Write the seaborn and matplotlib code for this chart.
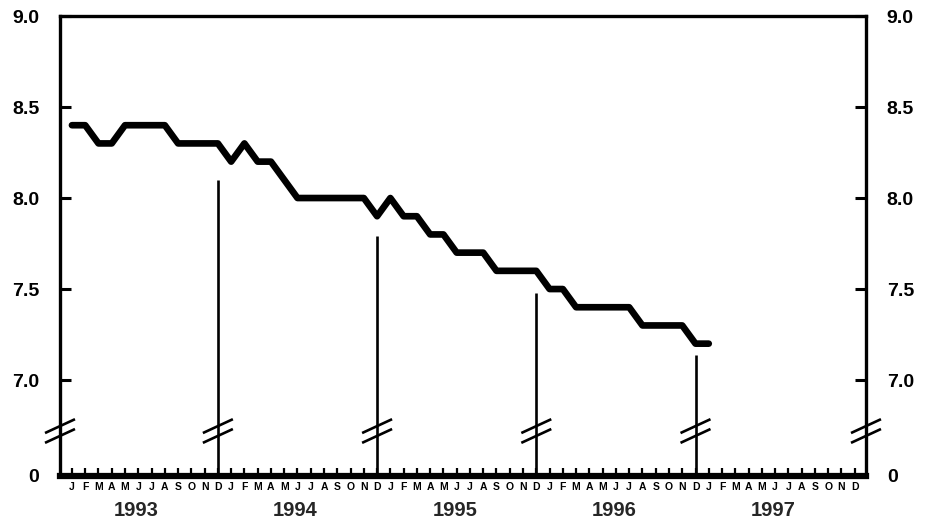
import numpy as np
import pandas as pd
import seaborn as sns
from matplotlib import pyplot as plt

# monthly values, Jan 1993 .. Jan 1997
values_1993 = [8.4, 8.4, 8.3, 8.3, 8.4, 8.4, 8.4, 8.4, 8.3, 8.3, 8.3, 8.3]
values_1994 = [8.2, 8.3, 8.2, 8.2, 8.1, 8.0, 8.0, 8.0, 8.0, 8.0, 8.0, 7.9]
values_1995 = [8.0, 7.9, 7.9, 7.8, 7.8, 7.7, 7.7, 7.7, 7.6, 7.6, 7.6, 7.6]
values_1996 = [7.5, 7.5, 7.4, 7.4, 7.4, 7.4, 7.4, 7.3, 7.3, 7.3, 7.3, 7.2]
values_1997 = [7.2]

years = ['1993', '1994', '1995', '1996', '1997']
month_letters = ['J', 'F', 'M', 'A', 'M', 'J', 'J', 'A', 'S', 'O', 'N', 'D']
y_ticks = [7.0, 7.5, 8.0, 8.5, 9.0]
y_tick_labels = ['7.0', '7.5', '8.0', '8.5', '9.0']
# year dividers (December of each year) and the height where each one stops
divider_months = [11, 23, 35, 47]
divider_tops = [8.10, 7.79, 7.48, 7.14]

values = values_1993 + values_1994 + values_1995 + values_1996 + values_1997
df = pd.DataFrame({'month': np.arange(len(values)), 'value': values})

y_bottom = 6.473   # where the broken axis shows "0"
y_break = 6.72

sns.set_style('white')
plt.rcParams['font.family'] = ['Liberation Sans', 'DejaVu Sans']
plt.rcParams['font.weight'] = 'bold'

fig = plt.figure(figsize=(9.36, 5.23), dpi=100)
ax = fig.add_axes([0.0641, 0.0899, 0.9252 - 0.0641, 0.9694 - 0.0899])

sns.lineplot(data=df, x='month', y='value', ax=ax, color='black',
             linewidth=4.8, solid_capstyle='round', solid_joinstyle='round')

# year dividers
ax.vlines(divider_months, y_bottom, divider_tops, color='black', linewidth=1.9)

n_months = 12 * len(years)
ax.set_xlim(-0.9, n_months - 0.15)
ax.set_ylim(y_bottom, 9.0)

# spines
for side in ['left', 'right', 'top']:
    ax.spines[side].set_visible(True)
    ax.spines[side].set_linewidth(2.4)
    ax.spines[side].set_color('black')
ax.spines['bottom'].set_linewidth(4.5)
ax.spines['bottom'].set_color('black')
ax.spines['bottom'].set_capstyle('projecting')

# y ticks on both sides, pointing in
ax.set_yticks([y_bottom] + y_ticks)
ax.set_yticklabels(['0'] + y_tick_labels)
ax.tick_params(axis='y', which='major', direction='in', length=8, width=2.2,
               left=True, right=True, labelleft=True, labelright=True,
               labelsize=14, pad=15, colors='black')

# month ticks
ax.set_xticks(range(n_months))
ax.set_xticklabels(month_letters * len(years))
ax.tick_params(axis='x', which='major', direction='in', length=5.5, width=1.6,
               bottom=True, labelsize=7.5, pad=4.5, colors='black')
ax.set_xlabel('')
ax.set_ylabel('')

# year labels under the months
for i, yr in enumerate(years):
    ax.annotate(yr, xy=(12 * i + 4.85, 0), xycoords=('data', 'axes fraction'),
                xytext=(0, -18), textcoords='offset points', ha='center',
                va='top', fontsize=14.5, fontweight='bold')

# axis break marks
half_w = 1.13
rise = 0.038
gap = 0.027
for xb in [-0.9] + divider_months + [n_months - 0.15]:
    for dy in [gap, -gap]:
        ax.plot([xb - half_w, xb + half_w],
                [y_break + dy - rise, y_break + dy + rise],
                color='black', linewidth=1.9, clip_on=False,
                solid_capstyle='butt')

fig.savefig('out.png', dpi=100)
